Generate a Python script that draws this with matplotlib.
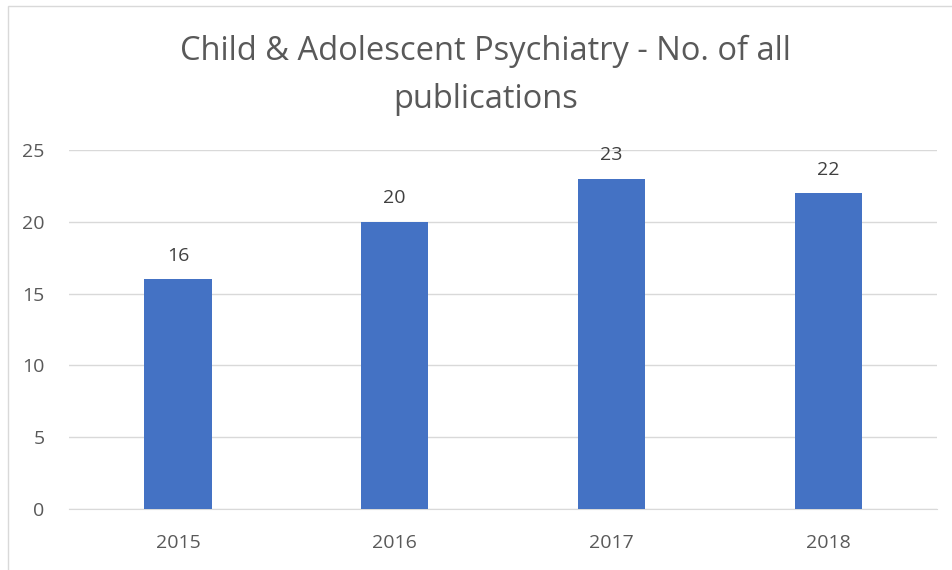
#!/usr/bin/env python3
"""Bar chart: Child & Adolescent Psychiatry publications per year."""

import matplotlib

matplotlib.use("Agg")
import matplotlib.pyplot as plt
from matplotlib.patches import Rectangle

YEARS = ["2015", "2016", "2017", "2018"]
PUBLICATIONS = [16, 20, 23, 22]

BAR_COLOR = "#4472c4"
GRID_COLOR = "#d9d9d9"
TEXT_COLOR = "#595959"

plt.rcParams["font.family"] = ["Open Sans", "DejaVu Sans"]

fig = plt.figure(figsize=(9.52, 5.7), dpi=100)
ax = fig.add_axes([0.073, 0.107, 0.911, 0.63])

x = range(len(YEARS))
bars = ax.bar(x, PUBLICATIONS, width=0.31, color=BAR_COLOR, zorder=3)

for bar, value in zip(bars, PUBLICATIONS):
    ax.text(
        bar.get_x() + bar.get_width() / 2,
        value + 1.0,
        str(value),
        ha="center",
        va="bottom",
        fontsize=14,
        color="#404040",
    )

ax.set_xlim(-0.5, len(YEARS) - 0.5)
ax.set_ylim(0, 25)
ax.set_yticks(range(0, 26, 5))
ax.set_xticks(list(x))
ax.set_xticklabels(YEARS)
ax.tick_params(axis="both", length=0, labelsize=14, labelcolor=TEXT_COLOR)
ax.tick_params(axis="x", pad=18)
ax.tick_params(axis="y", pad=18)
ax.grid(axis="y", color=GRID_COLOR, linewidth=1.0, zorder=0)
for side in ("top", "right", "left"):
    ax.spines[side].set_visible(False)
ax.spines["bottom"].set_color(GRID_COLOR)

fig.text(
    0.51,
    0.868,
    "Child & Adolescent Psychiatry - No. of all\npublications",
    ha="center",
    va="center",
    fontsize=23.5,
    color=TEXT_COLOR,
    linespacing=1.6,
)

fig.patches.append(
    Rectangle((0.008, -0.1), 1.1, 1.09, transform=fig.transFigure,
              fill=False, edgecolor=GRID_COLOR, linewidth=1.0)
)

fig.savefig("out.png", dpi=100, facecolor="white")
